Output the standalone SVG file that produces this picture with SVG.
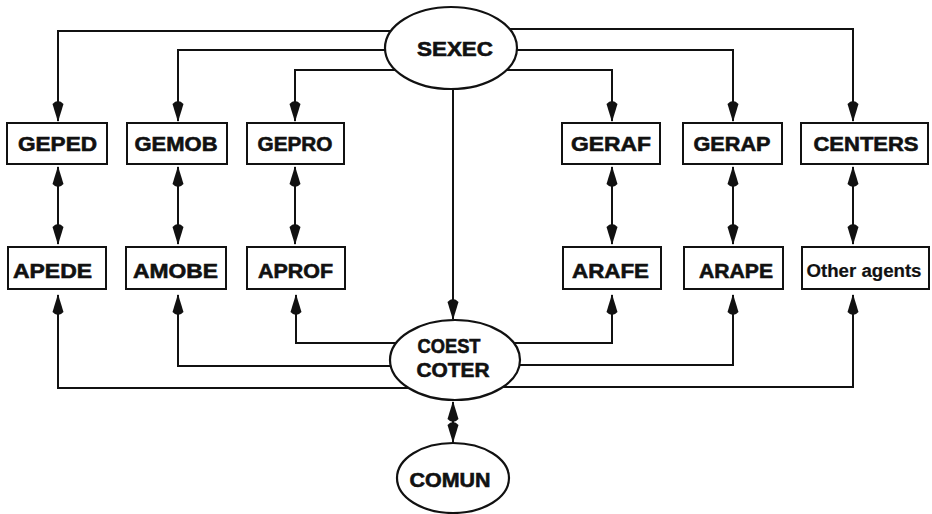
<svg xmlns="http://www.w3.org/2000/svg" width="932" height="514" viewBox="0 0 932 514">
<style>
  .box { fill: #fff; stroke: #111; stroke-width: 2; }
  .ell { fill: #fff; stroke: #111; stroke-width: 2.2; }
  .lbl { font-family: "Liberation Sans", Arial, sans-serif; font-weight: bold; font-size: 20px; fill: #111; stroke: #111; stroke-width: 0.6; text-anchor: middle; }
  .sm { font-size: 18px; stroke-width: 0.2; }
  .con { fill: none; stroke: #111; stroke-width: 2; }
  .one { marker-end: url(#ah); }
  .two { marker-start: url(#ah); marker-end: url(#ah); }
</style>
<defs>
  <marker id="ah" viewBox="-23 -6 25 12" refX="0" refY="0" markerWidth="25" markerHeight="12" markerUnits="userSpaceOnUse" orient="auto-start-reverse">
    <path d="M1,0 L-17,-5.5 Q-23,0 -17,5.5 Z" fill="#111"/>
  </marker>
</defs>
<rect width="932" height="514" fill="#fff"/>
<g id="connectors">
  <path class="con one" d="M451,31 H58 V121"/>
  <path class="con one" d="M451,50 H178 V121"/>
  <path class="con one" d="M451,70 H295 V121"/>
  <path class="con one" d="M451,70 H612 V121"/>
  <path class="con one" d="M451,50 H733 V121"/>
  <path class="con one" d="M451,29 H853 V121"/>
  <path class="con two" d="M58,167 V244"/>
  <path class="con two" d="M178,167 V244"/>
  <path class="con two" d="M295,167 V244"/>
  <path class="con two" d="M612,167 V244"/>
  <path class="con two" d="M733,167 V244"/>
  <path class="con two" d="M853,167 V244"/>
  <path class="con one" d="M453,89 V319"/>
  <path class="con one" d="M455,388 H58 V295"/>
  <path class="con one" d="M455,366 H178 V295"/>
  <path class="con one" d="M455,343 H296 V295"/>
  <path class="con one" d="M455,343 H612 V295"/>
  <path class="con one" d="M455,365 H733 V295"/>
  <path class="con one" d="M455,387 H853 V295"/>
  <path class="con two" d="M453,402 V442"/>
</g>
<g id="SEXEC"><ellipse class="ell" cx="451" cy="48" rx="66" ry="41"/><text class="lbl" x="455" y="56" textLength="76" lengthAdjust="spacingAndGlyphs">SEXEC</text></g>
<g id="COEST"><ellipse class="ell" cx="455" cy="360" rx="65" ry="40"/><text class="lbl" x="449" y="353" textLength="63" lengthAdjust="spacingAndGlyphs">COEST</text><text class="lbl" x="453" y="377" textLength="73" lengthAdjust="spacingAndGlyphs">COTER</text></g>
<g id="COMUN"><ellipse class="ell" cx="453" cy="478" rx="56" ry="35"/><text class="lbl" x="450" y="487" font-size="23" textLength="81" lengthAdjust="spacingAndGlyphs">COMUN</text></g>
<g id="GEPED"><rect class="box" x="7" y="123" width="100" height="41"/><text class="lbl" x="57.5" y="151" textLength="79" lengthAdjust="spacingAndGlyphs">GEPED</text></g>
<g id="GEMOB"><rect class="box" x="127" y="123" width="100" height="41"/><text class="lbl" x="176" y="151" textLength="83" lengthAdjust="spacingAndGlyphs">GEMOB</text></g>
<g id="GEPRO"><rect class="box" x="247" y="123" width="97" height="41"/><text class="lbl" x="295" y="151" textLength="75" lengthAdjust="spacingAndGlyphs">GEPRO</text></g>
<g id="GERAF"><rect class="box" x="562" y="123" width="98" height="41"/><text class="lbl" x="611" y="151" textLength="80" lengthAdjust="spacingAndGlyphs">GERAF</text></g>
<g id="GERAP"><rect class="box" x="683" y="123" width="99" height="41"/><text class="lbl" x="732" y="151" textLength="77" lengthAdjust="spacingAndGlyphs">GERAP</text></g>
<g id="CENTERS"><rect class="box" x="801" y="123" width="127" height="41"/><text class="lbl" x="866" y="151" textLength="105" lengthAdjust="spacingAndGlyphs">CENTERS</text></g>
<g id="APEDE"><rect class="box" x="8" y="247" width="98" height="42"/><text class="lbl" x="52.5" y="278" textLength="79" lengthAdjust="spacingAndGlyphs">APEDE</text></g>
<g id="AMOBE"><rect class="box" x="126" y="247" width="100" height="42"/><text class="lbl" x="175.5" y="278" textLength="85" lengthAdjust="spacingAndGlyphs">AMOBE</text></g>
<g id="APROF"><rect class="box" x="247" y="247" width="98" height="42"/><text class="lbl" x="295.5" y="278" textLength="75" lengthAdjust="spacingAndGlyphs">APROF</text></g>
<g id="ARAFE"><rect class="box" x="563" y="247" width="98" height="42"/><text class="lbl" x="610.5" y="278" textLength="77" lengthAdjust="spacingAndGlyphs">ARAFE</text></g>
<g id="ARAPE"><rect class="box" x="684" y="247" width="99" height="42"/><text class="lbl" x="736" y="278" textLength="74" lengthAdjust="spacingAndGlyphs">ARAPE</text></g>
<g id="OtherAgents"><rect class="box" x="802" y="247" width="127" height="42"/><text class="lbl sm" x="864" y="277" textLength="115" lengthAdjust="spacingAndGlyphs">Other agents</text></g>
</svg>
